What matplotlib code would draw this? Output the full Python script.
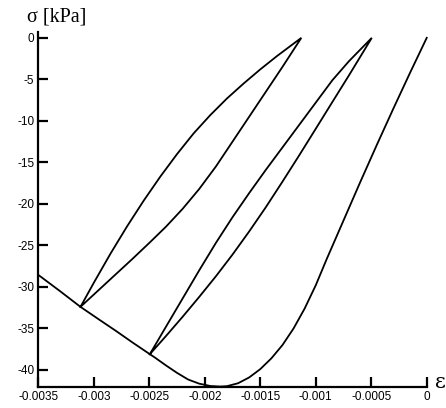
import matplotlib
matplotlib.use("Agg")
import matplotlib.pyplot as plt

# Envelope (monotonic) curve: strain, stress [kPa]
env_strain = [0.0, -0.00015, -0.0003, -0.00045, -0.0006, -0.00075, -0.0009, -0.001,
              -0.0011, -0.0012, -0.0013, -0.0014, -0.0015, -0.0016, -0.0017, -0.0018,
              -0.00186, -0.00195, -0.00205, -0.00215, -0.00225, -0.00235, -0.00245,
              -0.002495, -0.00265, -0.0028, -0.00295, -0.00312, -0.0033, -0.0035]
env_stress = [0.0, -4.2, -8.5, -12.9, -17.4, -22.0, -26.6, -29.8,
              -32.6, -35.0, -37.0, -38.6, -39.9, -40.9, -41.6, -41.95,
              -42.0, -41.93, -41.65, -41.15, -40.35, -39.45, -38.5,
              -38.1, -36.7, -35.3, -33.95, -32.4, -30.55, -28.55]

# Loop 1 (from -0.0025): upper branch (to zero stress) and lower branch (back)
loop1_up_strain = [-0.002495, -0.00235, -0.0022, -0.00205, -0.0019, -0.00175, -0.0016,
                   -0.00145, -0.0013, -0.00115, -0.001, -0.00085, -0.0007, -0.000495]
loop1_up_stress = [-38.1, -34.8, -31.4, -28.0, -24.7, -21.6, -18.7,
                   -15.9, -13.2, -10.5, -7.8, -5.1, -2.8, 0.0]
loop1_lo_strain = [-0.000495, -0.0007, -0.00085, -0.001, -0.00115, -0.0013, -0.00145,
                   -0.0016, -0.00175, -0.0019, -0.00205, -0.0022, -0.00235, -0.002495]
loop1_lo_stress = [0.0, -4.5, -7.72, -10.95, -14.17, -17.32, -20.4,
                   -23.32, -26.1, -28.72, -31.2, -33.6, -35.92, -38.1]

# Loop 2 (from -0.00312): upper branch and lower branch
loop2_up_strain = [-0.00312, -0.003, -0.00285, -0.0027, -0.00255, -0.0024, -0.00225,
                   -0.0021, -0.00195, -0.0018, -0.00165, -0.0015, -0.00135, -0.00124, -0.00113]
loop2_up_stress = [-32.4, -29.5, -26.0, -22.7, -19.6, -16.7, -14.0,
                   -11.5, -9.3, -7.3, -5.5, -3.8, -2.2, -1.1, 0.0]
loop2_lo_strain = [-0.00113, -0.0013, -0.00145, -0.0016, -0.00175, -0.0019, -0.00205,
                   -0.0022, -0.00235, -0.0025, -0.00265, -0.0028, -0.00295, -0.00312]
loop2_lo_stress = [0.0, -3.5, -6.5, -9.5, -12.5, -15.5, -18.2,
                   -20.6, -22.75, -24.7, -26.6, -28.45, -30.3, -32.4]

xticks = [-0.0035, -0.003, -0.0025, -0.002, -0.0015, -0.001, -0.0005, 0.0]
xticklabels = ["-0.0035", "-0.003", "-0.0025", "-0.002", "-0.0015", "-0.001", "-0.0005", "0"]
yticks = [0, -5, -10, -15, -20, -25, -30, -35, -40]
yticklabels = ["0", "-5", "-10", "-15", "-20", "-25", "-30", "-35", "-40"]

fig = plt.figure(figsize=(4.46, 4.08), dpi=100)
ax = fig.add_axes([0.0859, 0.0515, 0.8709, 0.870])

lw = 1.3
ax.plot(env_strain, env_stress, color="black", lw=lw, clip_on=False)
ax.plot(loop1_up_strain + loop1_lo_strain[1:], loop1_up_stress + loop1_lo_stress[1:],
        color="black", lw=lw, clip_on=False, solid_joinstyle="miter")
ax.plot(loop2_up_strain + loop2_lo_strain[1:], loop2_up_stress + loop2_lo_stress[1:],
        color="black", lw=lw, clip_on=False, solid_joinstyle="miter")

ax.set_xlim(-0.0035, 0.0)
ax.set_ylim(-42.05, 0.7)

for s in ["top", "right"]:
    ax.spines[s].set_visible(False)
for s in ["left", "bottom"]:
    ax.spines[s].set_linewidth(1.6)

ax.set_xticks(xticks)
ax.set_xticklabels(xticklabels)
ax.set_yticks(yticks)
ax.set_yticklabels(yticklabels)
ax.tick_params(direction="in", length=7, width=1.6, labelsize=8.5, pad=3)
for lab in ax.get_xticklabels() + ax.get_yticklabels():
    lab.set_family("Liberation Sans")

fig.text(57 / 446, 1 - 17 / 408, "σ [kPa]", family="Liberation Serif", fontsize=14.5,
         ha="center", va="center")
fig.text(440 / 446, 1 - 383 / 408, "ε", family="DejaVu Serif", fontsize=15,
         ha="center", va="center")

fig.savefig("out.png", dpi=100)
